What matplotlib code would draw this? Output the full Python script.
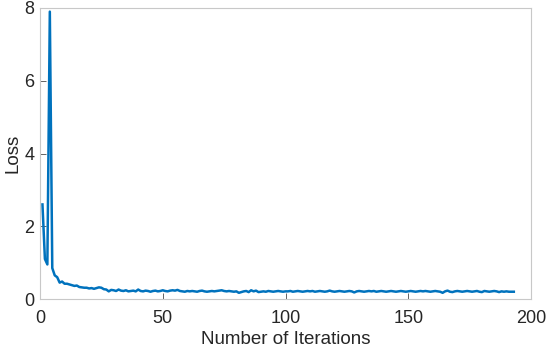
import matplotlib.pyplot as plt
import numpy as np

plt.rcParams['font.family'] = ['Liberation Sans', 'DejaVu Sans']

# loss per iteration (iterations 1..193)
head = [2.6, 1.1, 0.95, 7.9, 0.85, 0.65, 0.6, 0.45, 0.48, 0.42,
        0.42, 0.40, 0.38, 0.36, 0.37, 0.33, 0.32, 0.31, 0.31, 0.29,
        0.30, 0.28, 0.30, 0.32, 0.31, 0.27, 0.26, 0.21, 0.25, 0.24,
        0.22, 0.26, 0.23, 0.22, 0.24, 0.21, 0.22, 0.23, 0.21, 0.26]
mid = [0.22, 0.21, 0.23, 0.22, 0.20, 0.22, 0.23, 0.21, 0.22, 0.24,
       0.22, 0.21, 0.23, 0.24, 0.23, 0.25, 0.22, 0.21, 0.20, 0.22,
       0.21, 0.22, 0.21, 0.20, 0.22, 0.23, 0.21, 0.20, 0.21, 0.22,
       0.21, 0.22, 0.23, 0.24, 0.22, 0.21, 0.22, 0.21, 0.20, 0.21,
       0.17, 0.19, 0.21, 0.22, 0.19, 0.24, 0.21, 0.23, 0.19, 0.20,
       0.21, 0.20, 0.22, 0.21, 0.20, 0.21, 0.22, 0.21, 0.20, 0.21]
tail = [0.21, 0.22, 0.20, 0.21, 0.22, 0.21, 0.20, 0.21, 0.22, 0.21,
        0.22, 0.20, 0.21, 0.22, 0.21, 0.20, 0.21, 0.23, 0.21, 0.20,
        0.21, 0.22, 0.21, 0.20, 0.21, 0.22, 0.21, 0.18, 0.21, 0.22,
        0.21, 0.20, 0.21, 0.22, 0.21, 0.22, 0.20, 0.21, 0.22, 0.21,
        0.20, 0.21, 0.22, 0.21, 0.20, 0.21, 0.22, 0.21, 0.20, 0.21,
        0.22, 0.21, 0.20, 0.21, 0.22, 0.21, 0.22, 0.21, 0.20, 0.21,
        0.22, 0.21, 0.20, 0.17, 0.21, 0.23, 0.20, 0.19, 0.21, 0.22,
        0.21, 0.20, 0.21, 0.22, 0.21, 0.20, 0.21, 0.22, 0.20, 0.19,
        0.22, 0.21, 0.20, 0.21, 0.22, 0.21, 0.19, 0.21, 0.20, 0.21,
        0.20, 0.20, 0.20]
loss = head + mid + tail
iters = np.arange(1, 1 + len(loss))

fig = plt.figure(figsize=(5.5, 3.54), dpi=100)
# axes box: x 40..531 px, y 8..299 px
ax = fig.add_axes([40/550, 1 - 299/354, 491/550, 291/354])
ax.plot(iters, loss, color='#0072BD', lw=1.8)
ax.set_xlim(0, 200)
ax.set_ylim(0, 8)
ax.set_xticks([0, 50, 100, 150, 200])
ax.set_yticks([0, 2, 4, 6, 8])
ax.tick_params(labelsize=13, colors='#262626', direction='in', length=4, width=0.5)
ax.tick_params(axis='x', pad=8)
ax.tick_params(axis='y', pad=4)
ax.tick_params(which='both', top=False, right=False)
for s in ax.spines.values():
    s.set_color('#c8c8c8')
    s.set_linewidth(0.8)
ax.set_xlabel('Number of Iterations', fontsize=13.5, color='#262626', labelpad=3)
ax.set_ylabel('Loss', fontsize=13.5, color='#262626', labelpad=2)
fig.savefig('out.png', dpi=100)
